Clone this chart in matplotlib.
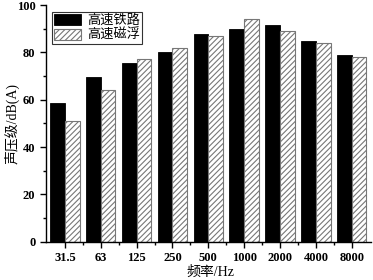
import matplotlib.pyplot as plt
import numpy as np
from matplotlib.ticker import MultipleLocator

plt.rcParams['font.family'] = ['Liberation Serif', 'Noto Sans CJK SC']
plt.rcParams['hatch.linewidth'] = 0.8

freq = ['31.5', '63', '125', '250', '500', '1000', '2000', '4000', '8000']
rail = [58.6, 69.5, 75.4, 80.3, 87.6, 90.0, 91.7, 84.9, 79.0]
maglev = [51.0, 64.1, 77.1, 82.0, 87.0, 94.0, 88.9, 83.9, 77.9]

x = np.arange(len(freq))
w = 0.41

fig = plt.figure(figsize=(3.73, 2.8), dpi=100)
ax = fig.add_axes([0.123, 0.137, 0.872, 0.845])

ax.bar(x - w / 2, rail, w, color='black', edgecolor='black', linewidth=0.6, label='高速铁路')
ax.bar(x + w / 2, maglev, w, color='white', edgecolor='#777777', hatch='//////',
       linewidth=0.8, label='高速磁浮')

ax.set_xlim(-0.53, 8.54)
ax.set_ylim(0, 100)
ax.set_xticks(x)
ax.set_xticklabels(freq)
ax.set_xticks(x[:-1] + 0.5, minor=True)
ax.yaxis.set_major_locator(MultipleLocator(20))
ax.yaxis.set_minor_locator(MultipleLocator(10))
ax.tick_params(which='major', direction='out', length=4, width=1, labelsize=9)
ax.tick_params(which='minor', direction='out', length=2, width=1)
for t in ax.get_xticklabels() + ax.get_yticklabels():
    t.set_fontweight('bold')

ax.spines['top'].set_visible(False)
ax.spines['right'].set_visible(False)
ax.spines['left'].set_linewidth(1)
ax.spines['bottom'].set_linewidth(1)

ax.set_ylabel('声压级/dB(A)', fontsize=10, va='center')
ax.yaxis.set_label_coords(-0.105, 0.5)
ax.set_xlabel('频率/Hz', fontsize=10, va='center')
ax.xaxis.set_label_coords(0.505, -0.128)

leg = ax.legend(loc='upper left', bbox_to_anchor=(0.02, 0.97), fontsize=9.5, frameon=True,
                fancybox=False, edgecolor='black', handlelength=2.0, handleheight=0.9,
                borderpad=0.15, labelspacing=0.15, handletextpad=0.5, borderaxespad=0)
leg.get_frame().set_linewidth(0.8)

plt.savefig('out.png', dpi=100)
